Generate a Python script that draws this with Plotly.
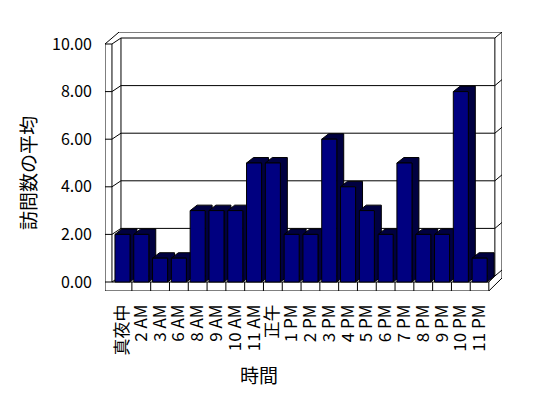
import plotly.graph_objects as go

# ---- data ----
categories = ["真夜中", "2 AM", "3 AM", "6 AM", "8 AM", "9 AM", "10 AM", "11 AM", "正午",
              "1 PM", "2 PM", "3 PM", "4 PM", "5 PM", "6 PM", "7 PM", "8 PM", "9 PM",
              "10 PM", "11 PM"]
avg_visits = [2, 2, 1, 1, 3, 3, 3, 5, 5, 2, 2, 6, 4, 3, 2, 5, 2, 2, 8, 1]
y_ticks = [0, 2, 4, 6, 8, 10]
y_title = "訪問数の平均"
x_title = "時間"

FONT = "Noto Sans CJK JP"
NAVY = "#000080"
SIDE = "#000040"

# ---- geometry (data units) ----
BAR_W = 0.8
DEPTH_X = 0.37
DEPTH_Y = 0.23
X_OUT_L = -0.93
X_WALL = -0.56
X_BACK_L = -0.08
X_BACK_R = 19.81
X_OUT_R = 20.19
X_CELL_R = 19.49
BACK_DY = 0.252
Y_BOT = -0.378
Y_TOP_OUT = 10.504
Y_MAX = 10

xs = list(range(len(categories)))

shapes = []
def line(x0, y0, x1, y1):
    shapes.append(dict(type="line", xref="x", yref="y", x0=x0, y0=y0, x1=x1, y1=y1,
                       line=dict(color="black", width=1), layer="below"))

# back wall gridlines with left/right wall ticks
for v in y_ticks:
    line(X_OUT_L, v, X_WALL, v)
    line(X_WALL, v, X_BACK_L, v + BACK_DY)
    line(X_BACK_L, v + BACK_DY, X_BACK_R, v + BACK_DY)
    line(X_BACK_R, v + BACK_DY, X_OUT_R, v + 2 * BACK_DY)

# frame
line(X_OUT_L, Y_BOT, X_OUT_L, Y_MAX)
line(X_WALL, 0, X_WALL, Y_MAX)
line(X_BACK_L, BACK_DY, X_BACK_L, Y_MAX + BACK_DY)
line(X_BACK_R, BACK_DY, X_BACK_R, Y_MAX + BACK_DY)
line(X_OUT_R, 0.168, X_OUT_R, Y_TOP_OUT)
line(X_OUT_L, Y_MAX, X_BACK_L - 0.1, Y_TOP_OUT)
line(X_BACK_L - 0.1, Y_TOP_OUT, X_OUT_R, Y_TOP_OUT)
line(X_OUT_L, Y_BOT, X_CELL_R, Y_BOT)
line(X_CELL_R, Y_BOT, X_OUT_R, 0.168)
line(X_WALL, 0, X_CELL_R, 0)
line(X_CELL_R, Y_BOT, X_CELL_R, 0)
line(X_CELL_R, 0, X_BACK_R, BACK_DY)
for i in range(len(categories) - 1):
    line(i + 0.5, Y_BOT, i + 0.5, 0)

# 3D side/top faces of the bars, derived from the data
for x, v in zip(xs, avg_visits):
    l = x - BAR_W / 2
    r = x + BAR_W / 2
    path = (f"M {l},{v} L {l + DEPTH_X},{v + DEPTH_Y} L {r + DEPTH_X},{v + DEPTH_Y} "
            f"L {r + DEPTH_X},{DEPTH_Y} L {r},0 L {r},{v} Z")
    shapes.append(dict(type="path", xref="x", yref="y", path=path,
                       fillcolor=SIDE, line=dict(color="black", width=1), layer="below"))

fig = go.Figure()
fig.add_trace(go.Bar(x=xs, y=avg_visits, width=BAR_W,
                     marker=dict(color=NAVY, line=dict(color="black", width=1)),
                     hoverinfo="skip"))

fig.update_layout(
    width=540, height=390,
    margin=dict(l=97, r=46, t=24, b=107, autoexpand=False),
    paper_bgcolor="white", plot_bgcolor="white",
    showlegend=False,
    font=dict(family=FONT, size=15, color="black"),
    shapes=shapes,
    xaxis=dict(range=[X_OUT_L, X_OUT_R], tickmode="array", tickvals=xs, ticktext=categories,
               tickangle=-90, showgrid=False, zeroline=False, showline=False, ticks="",
               automargin=False, ticklabelstandoff=9, tickfont=dict(family=FONT, size=17)),
    yaxis=dict(range=[Y_BOT, Y_TOP_OUT], tickmode="array", tickvals=y_ticks, tickformat=".2f",
               showgrid=False, zeroline=False, showline=False, ticks="", automargin=False,
               ticklabelstandoff=12, tickfont=dict(family=FONT, size=16)),
    annotations=[
        dict(text=y_title, xref="paper", yref="paper", x=-0.194, y=0.4556, showarrow=False,
             textangle=-90, font=dict(family=FONT, size=19), xanchor="center", yanchor="middle"),
        dict(text=x_title, xref="paper", yref="paper", x=0.389, y=-0.324, showarrow=False,
             font=dict(family=FONT, size=19), xanchor="center", yanchor="middle"),
    ],
)

fig.write_html("out.html")
